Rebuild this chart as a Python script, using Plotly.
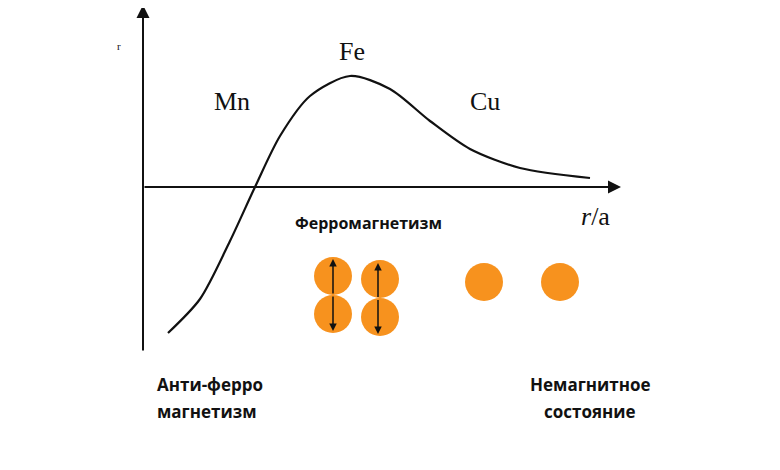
import plotly.graph_objects as go

# Bethe-Slater curve (units: 100 px)
curve_x = [0.25, 0.57, 0.87, 1.12, 1.37, 1.67, 2.07, 2.47, 2.87, 3.27, 3.77, 4.47]
curve_y = [-1.46, -1.12, -0.54, 0.0, 0.51, 0.91, 1.11, 0.98, 0.66, 0.38, 0.19, 0.09]
atom_x = [1.90, 1.90, 2.37, 2.37, 3.41, 4.17]
atom_y = [-0.89, -1.27, -0.92, -1.30, -0.95, -0.95]
spin_x = [1.90, 2.35]
spin_y0 = [-0.72, -0.76]
spin_y1 = [-1.44, -1.47]

fig = go.Figure()
fig.add_trace(go.Scatter(x=curve_x, y=curve_y, mode="lines", line=dict(color="#111", width=2.2, shape="spline", smoothing=0.8), hoverinfo="skip"))
fig.add_trace(go.Scatter(x=atom_x, y=atom_y, mode="markers", marker=dict(size=38, color="#F7921E", line=dict(width=0)), hoverinfo="skip"))

ann = []
def arrow(x0, y0, x1, y1, w=2, head=2, size=1):
    ann.append(dict(x=x1, y=y1, ax=x0, ay=y0, xref="x", yref="y", axref="x", ayref="y", showarrow=True, arrowhead=head, arrowsize=size, arrowwidth=w, arrowcolor="#111", text=""))
arrow(0, -1.65, 0, 1.82, 2, 2, 1.3)
arrow(0, 0, 4.78, 0, 2, 2, 1.3)
for sx, a, b in zip(spin_x, spin_y0, spin_y1):
    arrow(sx, (a + b) / 2, sx, a, 1.5, 2, 1)
    arrow(sx, (a + b) / 2, sx, b, 1.5, 2, 1)

serif = "Liberation Serif"
sans = "Open Sans"
def txt(x, y, t, size, fam, bold=False, xa="center"):
    ann.append(dict(x=x, y=y, xref="x", yref="y", text=("<b>%s</b>" % t) if bold else t, showarrow=False, xanchor=xa, font=dict(family=fam, size=size, color="#111")))
txt(0.89, 0.86, "Mn", 26, serif)
txt(2.09, 1.36, "Fe", 26, serif)
txt(3.42, 0.86, "Cu", 26, serif)
txt(4.52, -0.29, "<i>r</i>/a", 26, serif)
txt(-0.24, 1.41, "r", 11, serif)
txt(2.25, -0.36, "Ферромагнетизм", 16, sans, True)
txt(0.12, -1.97, "Анти-ферро", 17, sans, True, "left")
txt(0.12, -2.24, "магнетизм", 17, sans, True, "left")
txt(4.47, -1.97, "Немагнитное", 17, sans, True)
txt(4.47, -2.24, "состояние", 17, sans, True)

fig.update_layout(width=780, height=470, margin=dict(l=0, r=0, t=0, b=0), plot_bgcolor="white", paper_bgcolor="white",
                  showlegend=False, annotations=ann,
                  xaxis=dict(range=[-1.35, 6.45], visible=False, fixedrange=True),
                  yaxis=dict(range=[-2.91, 1.79], visible=False, fixedrange=True))
fig.write_html("out.html")
